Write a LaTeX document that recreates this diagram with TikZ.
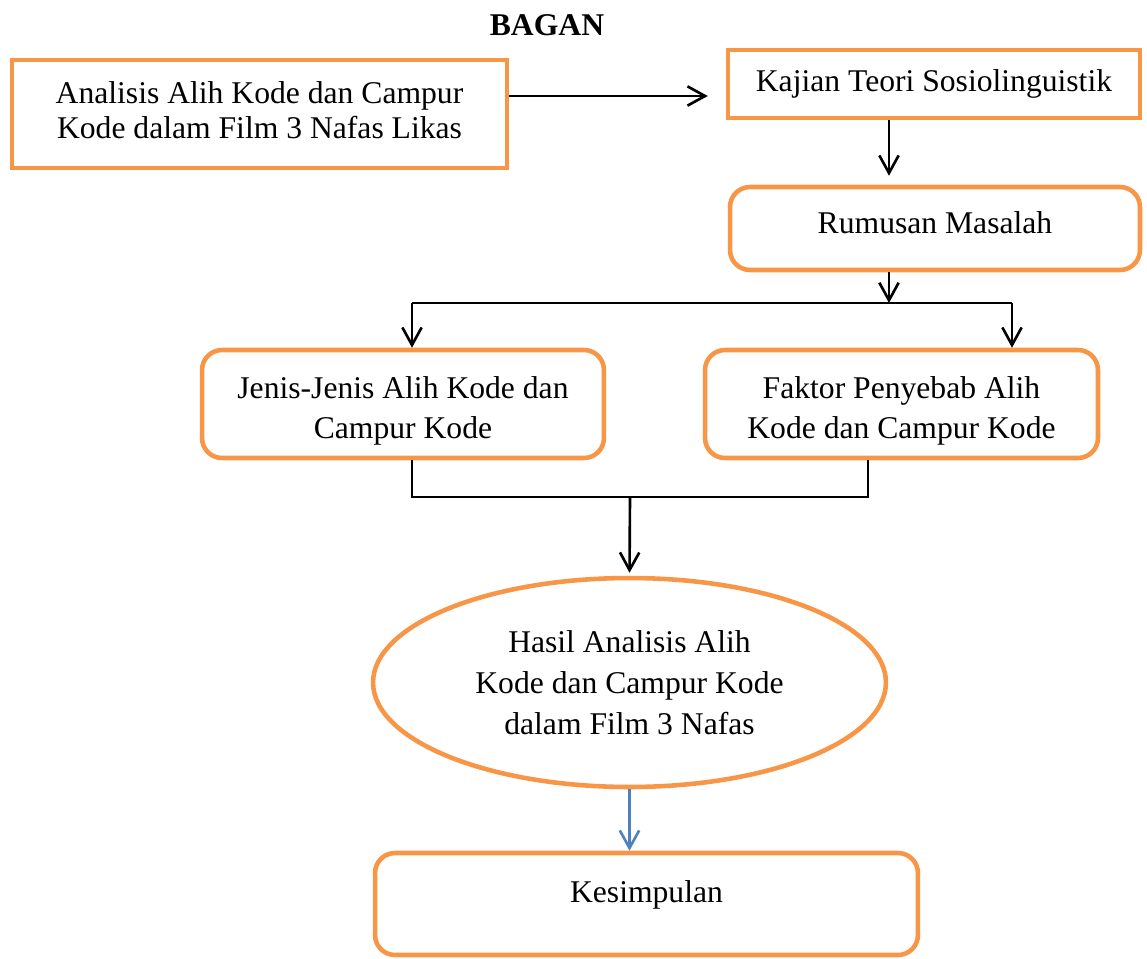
\documentclass[tikz,border=0pt]{standalone}
\usepackage{fontspec}
\setmainfont{Liberation Serif}
\usetikzlibrary{arrows.meta,shapes.geometric}
\definecolor{oren}{HTML}{F79646}
\definecolor{biru}{HTML}{4F81BD}

\begin{document}
\begin{tikzpicture}[x=0.02cm,y=-0.02cm,
	font=\fontsize{18}{21}\selectfont,
	kotak/.style={draw=oren,line width=2.6pt,align=center,inner sep=0pt},
	bulat/.style={kotak,rounded corners=0.4cm},
	garis/.style={line width=1.5pt},
	panah/.style={garis,-{Straight Barb[length=10pt,width=11pt]}}]
	\useasboundingbox (0,0) rectangle (1147,958);
	\node[font=\fontsize{18}{21}\selectfont\bfseries] (judul) at (547,25) {BAGAN};
	% kotak-kotak
	\node[kotak,minimum width=9.9cm,minimum height=2.16cm,text depth=0.16cm,font=\fontsize{18}{20.4}\selectfont] (analisis) at (259.5,114) {Analisis Alih Kode dan Campur\\Kode dalam Film 3 Nafas Likas};
	\node[kotak,minimum width=8.24cm,minimum height=1.36cm] (kajian) at (934,84) {Kajian Teori Sosiolinguistik};
	\node[bulat,minimum width=8.2cm,minimum height=1.66cm,text depth=0.24cm] (rumusan) at (935,228.5) {Rumusan Masalah};
	\node[bulat,minimum width=8.04cm,minimum height=2.16cm,font=\fontsize{18}{22.7}\selectfont] (jenis) at (403,404) {\rule{0pt}{20.5pt}Jenis-Jenis Alih Kode dan\\Campur Kode};
	\node[bulat,minimum width=7.86cm,minimum height=2.16cm,font=\fontsize{18}{22.7}\selectfont] (faktor) at (901.5,404) {\rule{0pt}{20.5pt}Faktor Penyebab Alih\\Kode dan Campur Kode};
	\node[kotak,ellipse,minimum width=10.26cm,minimum height=4.18cm,font=\fontsize{18}{23.5}\selectfont] (hasil) at (629.5,682.5) {Hasil Analisis Alih\\Kode dan Campur Kode\\dalam Film 3 Nafas};
	\node[bulat,minimum width=10.86cm,minimum height=2.04cm,text depth=0.5cm] (kesimpulan) at (646.5,904) {Kesimpulan};
	% titik bantu
	\coordinate (baris) at (0,96);
	\coordinate (pecah) at (889,303);
	\coordinate (kiri) at (412,303);
	\coordinate (kanan) at (1012,303);
	\coordinate (gabung) at (630,497);
	\coordinate (bawahkanan) at (868,497);
	% panah
	\draw[panah,shorten >=0.36cm] (analisis.east |- baris) -- (kajian.west |- baris);
	\draw[panah,shorten >=0.18cm] (kajian.south -| pecah) -- (rumusan.north -| pecah);
	\draw[panah] (rumusan.south -| pecah) -- (pecah);
	\draw[garis] (kiri) -- (kanan);
	\draw[panah] (kiri) -- (jenis.north -| kiri);
	\draw[panah] (kanan) -- (faktor.north -| kanan);
	\draw[garis] (jenis.south -| kiri) -- (kiri |- gabung) -- (bawahkanan) -- (faktor.south -| bawahkanan);
	\draw[panah,shorten >=0.06cm] (gabung) -- (hasil.north);
	\draw[panah,draw=biru] (hasil.south) -- (kesimpulan.north -| hasil.south);
\end{tikzpicture}
\end{document}
